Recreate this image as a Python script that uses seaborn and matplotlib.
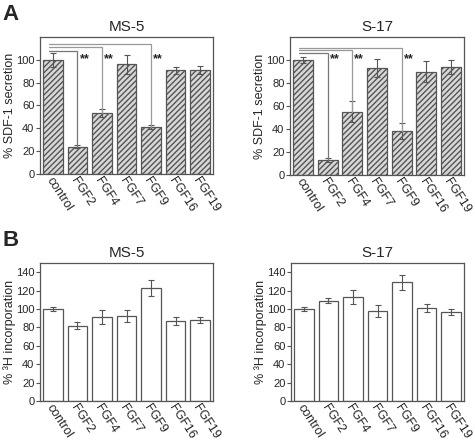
import numpy as np
import pandas as pd
import matplotlib
matplotlib.use("Agg")
import matplotlib.pyplot as plt
import matplotlib.transforms as mtrans
import seaborn as sns

# categories on every panel
groups = ["control", "FGF2", "FGF4", "FGF7", "FGF9", "FGF16", "FGF19"]

# panel A: % SDF-1 secretion
sdf_ms5 = [100, 24, 53, 96, 41, 91, 91]
sdf_ms5_err = [6, 1, 3.5, 8, 2, 3, 3.5]
sdf_s17 = [100, 13, 55, 93, 38, 90, 94]
sdf_s17_err = [3, 2, 9, 8, 7, 9, 6]

# panel B: % 3H incorporation
h3_ms5 = [100, 82, 91, 92, 123, 87, 88]
h3_ms5_err = [2, 4, 7.5, 6.5, 9, 4, 3]
h3_s17 = [100, 109, 113, 98, 129, 101, 97]
h3_s17_err = [2, 3, 8, 6.5, 8, 4, 3]

# significance brackets: (target group, bracket level)
sig_ms5 = [("FGF2", 108), ("FGF4", 111.5), ("FGF9", 114)]
sig_s17 = [("FGF2", 106.5), ("FGF4", 108.5), ("FGF9", 110.5)]

sns.set_style("ticks")
plt.rcParams["font.family"] = ["Liberation Sans", "DejaVu Sans"]

fig = plt.figure(figsize=(4.75, 4.43), dpi=100)
W, H = 475, 443


def make_ax(x0, x1, y0, y1):
    return fig.add_axes([x0 / W, 1 - y1 / H, (x1 - x0) / W, (y1 - y0) / H])


def panel(ax, vals, errs, title, ylabel, ymax, yticks, hatched):
    df = pd.DataFrame({"group": groups, "value": vals})
    sns.barplot(data=df, x="group", y="value", ax=ax, errorbar=None,
                width=0.8, color="#d8d8d8" if hatched else "white",
                edgecolor="#555555", linewidth=0.9)
    for p in ax.patches:
        if hatched:
            p.set_hatch("//////")
        p.set_edgecolor("#555555")
    ax.errorbar(range(len(groups)), vals, yerr=errs, fmt="none",
                ecolor="#555555", elinewidth=0.8, capsize=2.5, capthick=0.8)
    ax.set_xlim(-0.53, 6.53)
    ax.set_ylim(0, ymax)
    ax.set_yticks(yticks)
    ax.set_xlabel("")
    ax.set_ylabel(ylabel, fontsize=9, labelpad=0)
    ax.set_title(title, fontsize=11, pad=4)
    ax.tick_params(axis="y", labelsize=8, length=3, width=0.8, pad=1,
                   color="#555555")
    ax.tick_params(axis="x", length=0, pad=3)
    ax.set_xticks(range(len(groups)))
    ax.set_xticklabels(groups, rotation=-57, ha="left", va="center",
                       rotation_mode="anchor", fontsize=9)
    shift = mtrans.ScaledTranslation(-4 / 100, 0, fig.dpi_scale_trans)
    for lab in ax.get_xticklabels():
        lab.set_transform(lab.get_transform() + shift)
    for s in ax.spines.values():
        s.set_color("#555555")
        s.set_linewidth(0.9)
        s.set_visible(True)


def brackets(ax, vals, sig):
    for i, (g, level) in enumerate(sig):
        j = groups.index(g)
        col = "#777777" if i == 0 else "#999999"
        ax.plot([-0.15, j, j], [level, level, vals[j]], color=col, lw=0.9,
                solid_joinstyle="miter", clip_on=False)
        ax.text(j + 0.08, 101, "**", fontsize=9, fontweight="bold",
                ha="left", va="center")


ax1 = make_ax(40, 213, 37, 174)
panel(ax1, sdf_ms5, sdf_ms5_err, "MS-5", "% SDF-1 secretion", 120,
      range(0, 101, 20), True)
brackets(ax1, sdf_ms5, sig_ms5)

ax2 = make_ax(290, 464, 37, 175)
panel(ax2, sdf_s17, sdf_s17_err, "S-17", "% SDF-1 secretion", 120,
      range(0, 101, 20), True)
brackets(ax2, sdf_s17, sig_s17)

ax3 = make_ax(40, 213, 263, 401)
panel(ax3, h3_ms5, h3_ms5_err, "MS-5", "% ³H incorporation", 150,
      range(0, 141, 20), False)

ax4 = make_ax(291, 464, 263, 401)
panel(ax4, h3_s17, h3_s17_err, "S-17", "% ³H incorporation", 150,
      range(0, 141, 20), False)

fig.text(2 / W, 1 - 4 / H, "A", fontsize=16, fontweight="bold", va="top")
fig.text(2 / W, 1 - 230 / H, "B", fontsize=16, fontweight="bold", va="top")

fig.savefig("out.png", dpi=100)
